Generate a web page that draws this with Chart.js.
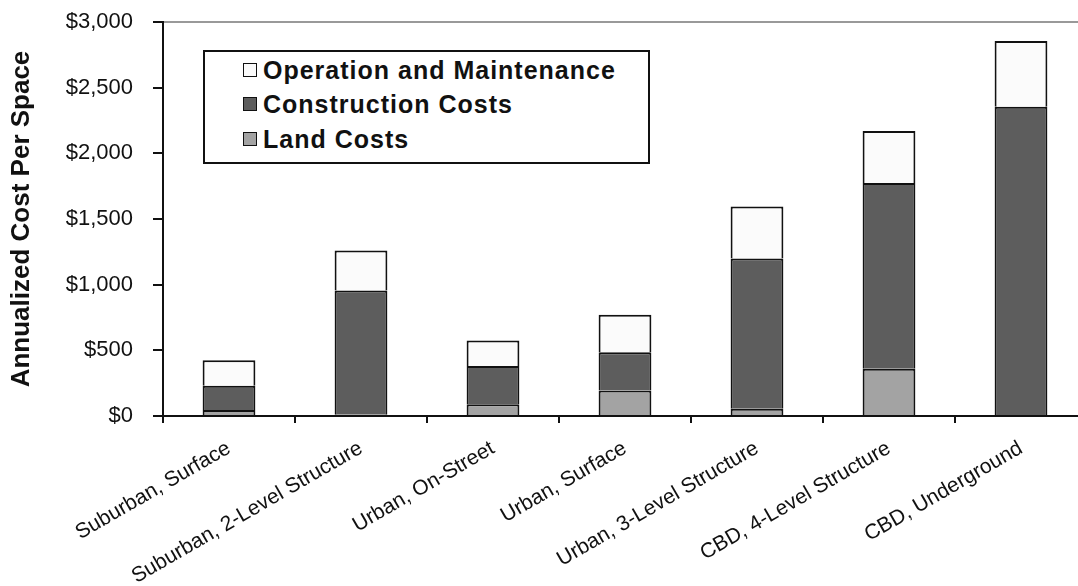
<!DOCTYPE html>
<html>
<head>
<meta charset="utf-8">
<script src="https://cdn.jsdelivr.net/npm/chart.js@4.4.1/dist/chart.umd.min.js"></script>
<style>
  body { margin: 0; overflow: hidden; background: #fff; font-family: "Liberation Sans", Arial, sans-serif; }
  #wrap { position: absolute; left: 0; top: 0; width: 1095px; height: 586px; }
  #legend {
    position: absolute; left: 203px; top: 50px; width: 443px; height: 110px;
    border: 2px solid #111; background: #fff;
  }
  .item { position: absolute; left: 38px; height: 30px; display: flex; align-items: center;
    font: bold 25px "Liberation Sans", Arial, sans-serif; letter-spacing: 1px; color: #111; }
  .swatch { width: 12px; height: 12px; border: 1.5px solid #111; margin-right: 6px; }
</style>
</head>
<body>
<div id="wrap"><canvas id="chart"></canvas></div>
<div id="legend"></div>
<script>
// categories and stacked values (annualized $ per space)
const categories = [
  'Suburban, Surface',
  'Suburban, 2-Level Structure',
  'Urban, On-Street',
  'Urban, Surface',
  'Urban, 3-Level Structure',
  'CBD, 4-Level Structure',
  'CBD, Underground'
];
const landCosts = [45, 10, 90, 195, 55, 360, 0];
const constructionCosts = [185, 945, 290, 290, 1145, 1415, 2355];
const operationMaintenance = [195, 305, 195, 285, 395, 395, 500];

const seriesNames = ['Land Costs', 'Construction Costs', 'Operation and Maintenance'];
const seriesColors = ['#a3a3a3', '#5d5d5d', '#fbfbfb'];
const yTicks = [0, 500, 1000, 1500, 2000, 2500, 3000];

const seriesData = [landCosts, constructionCosts, operationMaintenance];

let datasets = seriesData.map((d, i) => ({
  label: seriesNames[i],
  data: d,
  backgroundColor: seriesColors[i],
  borderColor: '#111',
  borderWidth: 2,
  borderSkipped: 'start',
  categoryPercentage: 1,
  barPercentage: 0.4
}));

// legend inside the plot, top entry is the top segment
const legend = document.getElementById('legend');
const rowTops = [3, 37, 72];
seriesNames.slice().reverse().forEach((name, i) => {
  const color = seriesColors[seriesNames.length - 1 - i];
  const item = document.createElement('div');
  item.className = 'item';
  item.style.top = rowTops[i] + 'px';
  item.innerHTML = `<span class="swatch" style="background:${color}"></span>${name}`;
  legend.appendChild(item);
});

let ctx = document.getElementById('chart').getContext('2d');
new Chart(ctx, {
  type: 'bar',
  data: { labels: categories, datasets: datasets },
  options: {
    responsive: true,
    maintainAspectRatio: false,
    animation: false,
    layout: { padding: { top: 22, right: 8, left: 0, bottom: 0 } },
    plugins: { legend: { display: false }, tooltip: { enabled: false } },
    scales: {
      x: {
        stacked: true,
        grid: { color: 'transparent', tickColor: '#111', tickLength: 7, lineWidth: 2, offset: true },
        border: { color: '#111', width: 2 },
        ticks: {
          maxRotation: 30, minRotation: 30, padding: 13,
          color: '#111',
          font: { family: '"Liberation Sans", Arial, sans-serif', size: 21 }
        },
        afterFit: scale => { scale.height = 170; }
      },
      y: {
        stacked: true,
        min: 0, max: 3000,
        afterBuildTicks: scale => { scale.ticks = yTicks.map(v => ({ value: v })); },
        grid: {
          color: c => c.tick && c.tick.value === 3000 ? '#999' : 'transparent',
          lineWidth: 2, tickColor: '#111', tickLength: 10
        },
        border: { color: '#111', width: 2 },
        ticks: {
          padding: 20,
          color: '#111',
          font: { family: '"Liberation Sans", Arial, sans-serif', size: 22 },
          callback: v => '$' + v.toLocaleString('en-US')
        },
        title: {
          display: true,
          text: 'Annualized Cost Per Space',
          color: '#111',
          padding: { top: 6, bottom: 0 },
          font: { family: '"Liberation Sans", Arial, sans-serif', size: 26, weight: 'bold' }
        },
        afterFit: scale => {
          scale.width = 163;
          scale.paddingTop = 0;
          scale.paddingBottom = 0;
        }
      }
    }
  }
});
</script>
</body>
</html>
